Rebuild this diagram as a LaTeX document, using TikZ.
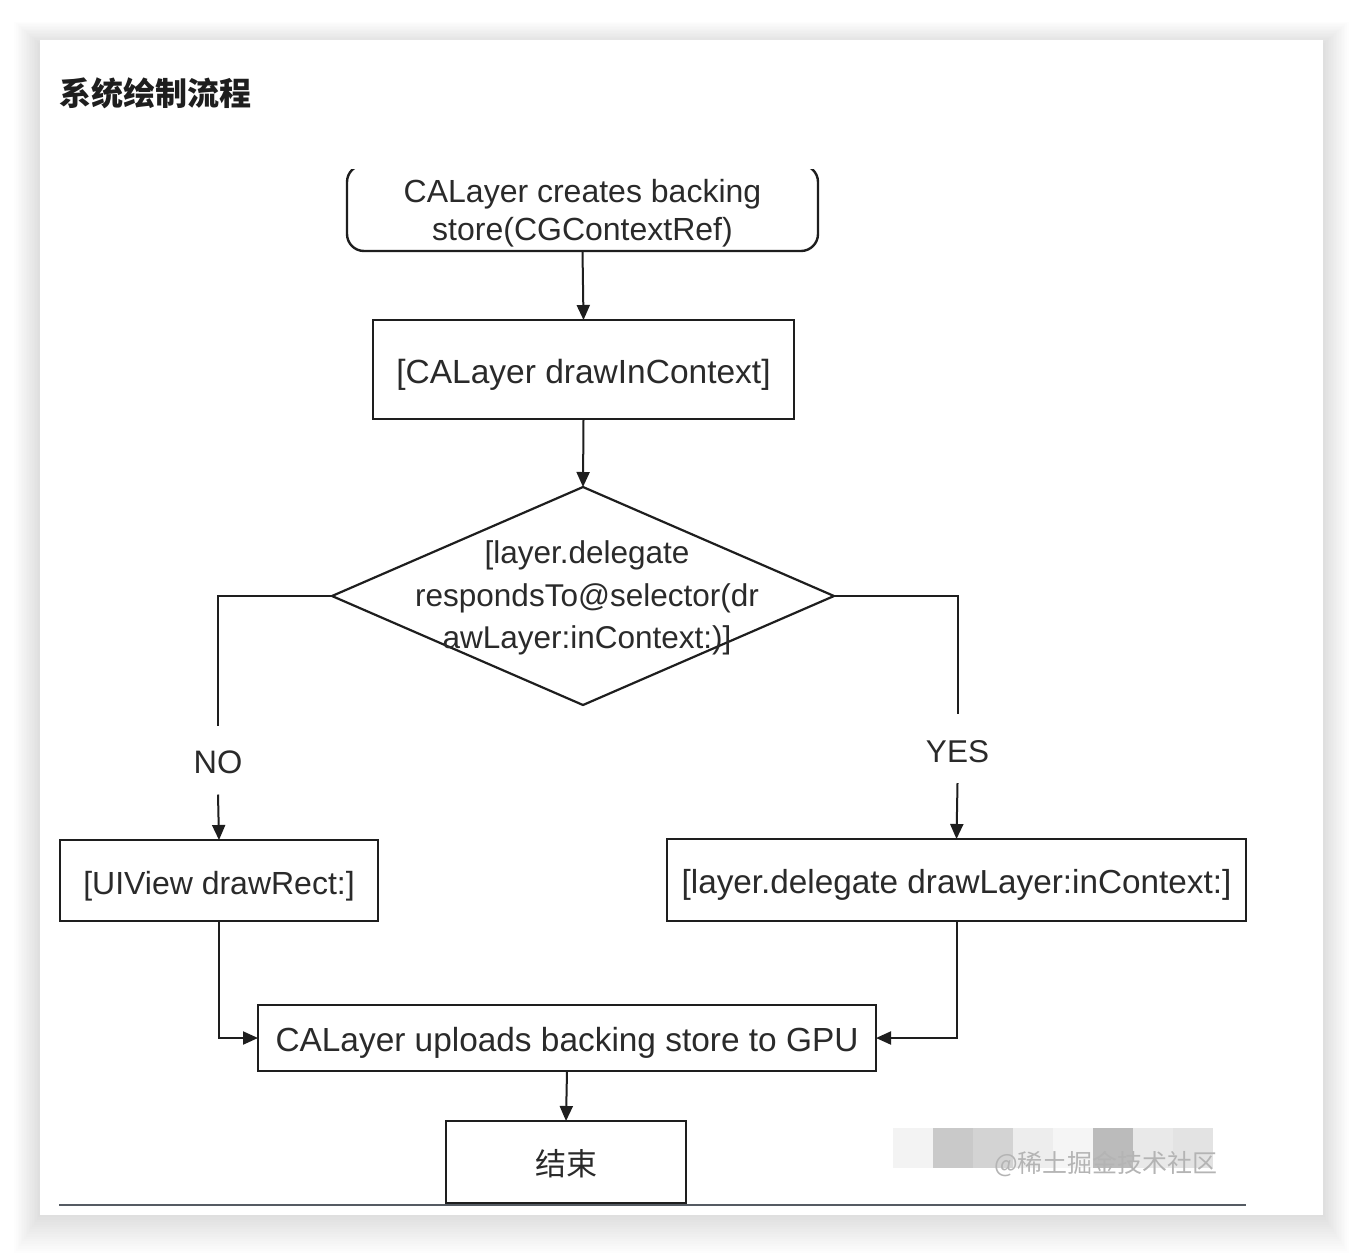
\documentclass[tikz,border=0pt]{standalone}
\usepackage{fontspec}
\setmainfont{Liberation Sans}
\newfontfamily\cjk{Noto Sans CJK SC}
\usetikzlibrary{arrows.meta,shapes.geometric}
\definecolor{ink}{HTML}{1E1E1E}
\definecolor{txt}{HTML}{2A2A2A}
\definecolor{rule}{HTML}{555B63}
\definecolor{mA}{HTML}{F3F3F3}
\definecolor{mB}{HTML}{C9C9C9}
\definecolor{mC}{HTML}{D3D3D3}
\definecolor{mD}{HTML}{EDEDED}
\definecolor{mE}{HTML}{F5F5F5}
\definecolor{mF}{HTML}{BBBBBB}
\definecolor{mG}{HTML}{E9E9E9}
\definecolor{mH}{HTML}{E3E3E3}
\definecolor{wmtext}{HTML}{B4B4B4}
\begin{document}
\begin{tikzpicture}[x=1pt,y=-1pt,
  box/.style={draw=ink, line width=2.4pt, inner sep=0pt, outer sep=0pt, text=txt,
    font=\fontsize{32pt}{38pt}\selectfont, align=center, text height=27pt, text depth=0pt},
  lbl/.style={inner sep=0pt, outer sep=0pt, text=txt, font=\fontsize{31pt}{38pt}\selectfont},
  conn/.style={draw=ink, line width=2pt},
  arr/.style={conn, -{Triangle[length=15pt,width=13pt]}}]
\useasboundingbox (0,0) rectangle (1364,1256);
\fill[white] (0,0) rectangle (1364,1256);
% card shadow
\foreach \i in {1,...,16}{
  \fill[black,opacity=0.006] ({40-\i*1.6},{44-\i*1.4}) rectangle ({1323+\i*1.6},{1215+\i*2.4});
}
\fill[white] (40,40) rectangle (1323,1215);
% title
\node[anchor=west, inner sep=0pt, text=ink, font=\cjk\bfseries\fontsize{32pt}{36pt}\selectfont] (title) at (59,93) {系统绘制流程};
% top rounded box (clipped at image top)
\begin{scope}
  \clip (300,169) rectangle (900,270);
  \node[box, rounded corners=17pt, minimum width=471pt, minimum height=86pt] (create) at (582.5,208) {};
\end{scope}
\node[lbl, align=center, font=\fontsize{32pt}{38pt}\selectfont] (createtext) at (582.5,213) {CALayer creates backing\\store(CGContextRef)};
\node[box, minimum width=421pt, minimum height=99pt, font=\fontsize{33.5pt}{38pt}\selectfont] (draw) at (583.5,369.5) {[CALayer drawInContext]};
\node[diamond, draw=ink, line width=2.2pt, inner sep=0pt, outer sep=0pt, minimum width=502pt, minimum height=218pt] (dec) at (583,596) {};
\node[lbl, align=center, font=\fontsize{31.5pt}{42.5pt}\selectfont] (dectext) at (587,598) {[layer.delegate\\respondsTo@selector(dr\\awLayer:inContext:)]};
\node[lbl, minimum height=69pt, text height=27pt, text depth=0pt, font=\fontsize{32.5pt}{38pt}\selectfont] (no) at (218,760) {NO};
\node[lbl, minimum height=69pt, text height=27pt, text depth=0pt, font=\fontsize{31.5pt}{38pt}\selectfont] (yes) at (957.5,748.5) {YES};
\node[box, minimum width=318pt, minimum height=81pt] (ui) at (219,880.5) {[UIView drawRect:]};
\node[box, minimum width=579pt, minimum height=82pt, font=\fontsize{33.3pt}{38pt}\selectfont] (dl) at (956.5,880) {[layer.delegate drawLayer:inContext:]};
\node[box, minimum width=618pt, minimum height=66pt, font=\fontsize{33.4pt}{38pt}\selectfont] (gpu) at (567,1038) {CALayer uploads backing store to GPU};
\node[box, minimum width=240pt, minimum height=82pt, font=\cjk\fontsize{31pt}{36pt}\selectfont] (end) at (566,1162) {结束};
% connectors
\draw[arr] (create.south) -- (draw.north);
\draw[arr] (draw.south) -- (dec.north);
\draw[conn] (dec.west) -| (no.north);
\draw[arr] (no.south) -- (ui.north);
\draw[conn] (dec.east) -| (yes.north);
\draw[arr] (yes.south) -- (dl.north);
\draw[arr] (ui.south) |- (gpu.west);
\draw[arr] (dl.south) |- (gpu.east);
\draw[arr] (gpu.south) -- (end.north);
% bottom rule
\draw[draw=rule, line width=1.6pt] (59,1205) -- (1246,1205);
% watermark mosaic
\fill[mA] (893,1128) rectangle (933,1168);
\fill[mB] (933,1128) rectangle (973,1168);
\fill[mC] (973,1128) rectangle (1013,1168);
\fill[mD] (1013,1128) rectangle (1053,1168);
\fill[mE] (1053,1128) rectangle (1093,1168);
\fill[mF] (1093,1128) rectangle (1133,1168);
\fill[mG] (1133,1128) rectangle (1173,1168);
\fill[mH] (1173,1128) rectangle (1213,1168);
\node[anchor=west, inner sep=0pt, text=wmtext, font=\cjk\fontsize{25pt}{28pt}\selectfont] (wm) at (994,1164) {@稀土掘金技术社区};
\end{tikzpicture}
\end{document}
